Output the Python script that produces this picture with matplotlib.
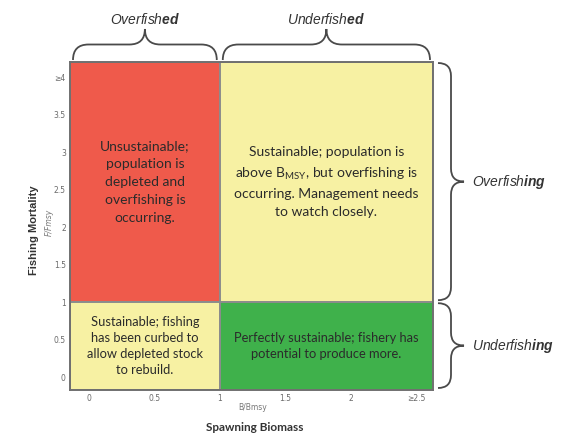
import matplotlib
matplotlib.use("Agg")
import matplotlib.pyplot as plt
from matplotlib.patches import Rectangle, PathPatch
from matplotlib.path import Path

plt.rcParams['mathtext.fontset'] = 'custom'
plt.rcParams['mathtext.rm'] = 'Lato'
plt.rcParams['mathtext.it'] = 'Liberation Sans:italic'
plt.rcParams['mathtext.bf'] = 'Liberation Sans:bold:italic'

# axis values
b_ticks = [0, 0.5, 1, 1.5, 2, 2.5]
b_labels = ['0', '0.5', '1', '1.5', '2', '\u22652.5']
f_ticks = [0, 0.5, 1, 1.5, 2, 2.5, 3, 3.5, 4]
f_labels = ['0', '0.5', '1', '1.5', '2', '2.5', '3', '3.5', '\u22654']
b_range = (-0.145, 2.63)
f_range = (-0.17, 4.2)
b_limit = 1.0   # B/Bmsy threshold
f_limit = 1.0   # F/Fmsy threshold

# quadrants: (biomass side, mortality side) -> colour, text
zone_colors = {
    ('low', 'high'): '#EF5A4B',
    ('high', 'high'): '#F7F1A3',
    ('low', 'low'): '#F7F1A3',
    ('high', 'low'): '#3FB14B',
}
zone_texts = {
    ('low', 'high'): "Unsustainable;\npopulation is\ndepleted and\noverfishing is\noccurring.",
    ('high', 'high'): "Sustainable; population is\nabove B$_{\\mathrm{MSY}}$, but overfishing is\noccurring. Management needs\nto watch closely.",
    ('low', 'low'): "Sustainable; fishing\nhas been curbed to\nallow depleted stock\nto rebuild.",
    ('high', 'low'): "Perfectly sustainable; fishery has\npotential to produce more.",
}
top_labels = [r'$\mathit{Overfish}\mathbf{ed}$', r'$\mathit{Underfish}\mathbf{ed}$']
side_labels = [r'$\mathit{Overfish}\mathbf{ing}$', r'$\mathit{Underfish}\mathbf{ing}$']

fig = plt.figure(figsize=(5.66, 4.34), dpi=100)
ax = fig.add_axes([70/566, 44/434, 363/566, 328/434])
ax.set_xlim(*b_range)
ax.set_ylim(*f_range)

spans_b = {'low': (b_range[0], b_limit), 'high': (b_limit, b_range[1])}
spans_f = {'low': (f_range[0], f_limit), 'high': (f_limit, f_range[1])}
for (bk, fk), col in zone_colors.items():
    x0, x1 = spans_b[bk]
    y0, y1 = spans_f[fk]
    ax.add_patch(Rectangle((x0, y0), x1 - x0, y1 - y0, facecolor=col,
                           edgecolor='#8c8c8c', lw=1.4))
    if fk == 'high':
        size, ls = 10, 1.6
    else:
        size, ls = 9.3, 1.42
    ax.text((x0 + x1) / 2, (y0 + y1) / 2, zone_texts[(bk, fk)], ha='center', va='center',
            fontsize=size, family='Lato', color='#2b2b2b', linespacing=ls)

ax.set_xticks(b_ticks)
ax.set_xticklabels(b_labels)
ax.set_yticks(f_ticks)
ax.set_yticklabels(f_labels)
ax.tick_params(length=0, labelsize=5.5, labelcolor='#6a6a6a', pad=3)
for s in ax.spines.values():
    s.set_color('#707070')
    s.set_linewidth(1.4)

ax.text(-0.1, 0.488, 'Fishing Mortality', transform=ax.transAxes, rotation=90,
        ha='center', va='center', fontsize=8, fontweight='bold', family='Liberation Sans', color='#333333')
ax.text(-0.058, 0.51, 'F/Fmsy', transform=ax.transAxes, rotation=90,
        ha='center', va='center', fontsize=5.5, style='italic', color='#777777')
ax.text(0.504, -0.052, 'B/Bmsy', transform=ax.transAxes,
        ha='center', va='center', fontsize=5.5, color='#777777')
ax.text(0.51, -0.113, 'Spawning Biomass', transform=ax.transAxes,
        ha='center', va='center', fontsize=8.5, fontweight='bold', family='Lato', color='#333333')


def brace(p_start, p_end, depth, horizontal):
    # curly brace in display pixels; u runs along the brace, v points outward
    if horizontal:
        u0, u1, base = p_start[0], p_end[0], p_start[1]
    else:
        u0, u1, base = p_start[1], p_end[1], p_start[0]
    L = u1 - u0
    D = depth
    r = min(D / 2, abs(L) / 4) * (1 if L > 0 else -1)
    m = L / 2
    pts = [(0, 0), (0, D / 2), (r, D / 2), (m - r, D / 2), (m, D / 2), (m, D),
           (m, D / 2), (m + r, D / 2), (L - r, D / 2), (L, D / 2), (L, 0)]
    codes = [Path.MOVETO, Path.CURVE3, Path.CURVE3, Path.LINETO, Path.CURVE3, Path.CURVE3,
             Path.CURVE3, Path.CURVE3, Path.LINETO, Path.CURVE3, Path.CURVE3]
    if horizontal:
        verts = [(u0 + u, base + v) for u, v in pts]
    else:
        verts = [(base + v, u0 + u) for u, v in pts]
    fig.add_artist(PathPatch(Path(verts, codes), transform=None, facecolor='none',
                             edgecolor='#4a4a4a', lw=1.3))
    return (u0 + m, base + D)


fig.canvas.draw()
td = ax.transData
inv = fig.transFigure.inverted()

# top braces over each biomass zone
for (x0, x1), lab in zip([spans_b['low'], spans_b['high']], top_labels):
    pa = td.transform((x0, f_range[1]))
    pb = td.transform((x1, f_range[1]))
    tip = brace((pa[0] + 3, pa[1] + 2), (pb[0] - 3, pb[1] + 2), 31, True)
    fx, fy = inv.transform((tip[0], tip[1] + 10))
    fig.text(fx, fy, lab, ha='center', va='center', fontsize=10, color='#333333')

# side braces for each mortality zone
for (y0, y1), lab in zip([spans_f['high'], spans_f['low']], side_labels):
    pa = td.transform((b_range[1], y1))
    pb = td.transform((b_range[1], y0))
    tip = brace((pa[0] + 5, pa[1] - 1), (pb[0] + 5, pb[1] + 2), 26, False)
    fx, fy = inv.transform((tip[1] + 8, tip[0]))
    fig.text(fx, fy, lab, ha='left', va='center', fontsize=10, color='#333333')

fig.savefig('out.png', dpi=100)
